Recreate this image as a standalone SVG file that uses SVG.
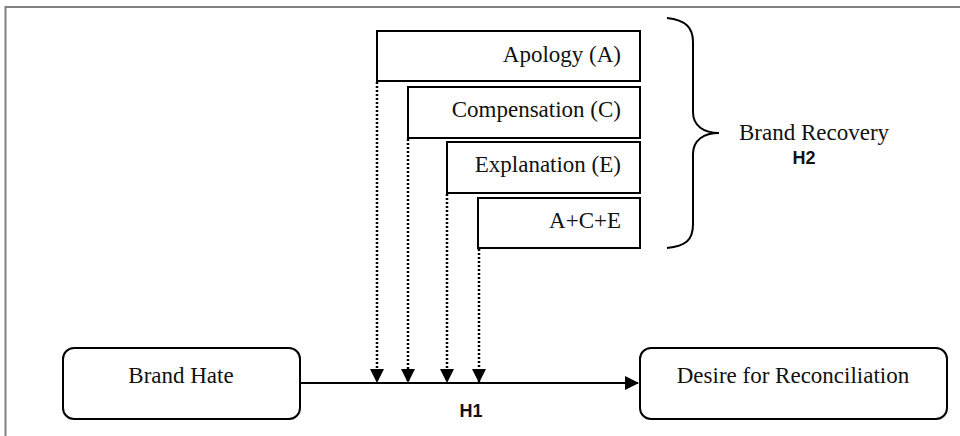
<svg xmlns="http://www.w3.org/2000/svg" width="960" height="436" viewBox="0 0 960 436">
<defs>
<style>
.box{fill:#fff;stroke:#000;stroke-width:2}
.t{font-family:"Liberation Serif","Times New Roman",serif;font-size:23px;fill:#111}
.h{font-family:"Liberation Sans",Arial,sans-serif;font-size:18px;font-weight:bold;fill:#111}
.dot{stroke:#000;stroke-width:2.5;stroke-dasharray:2 2;fill:none}
.ln{stroke:#000;stroke-width:2;fill:none}
.frame{stroke:#808080;stroke-width:2;fill:none}
</style>
<marker id="ah" viewBox="0 0 14 14" refX="13" refY="7" markerWidth="14" markerHeight="14" markerUnits="userSpaceOnUse" orient="auto">
<path d="M0,0 L14,7 L0,14 Z" fill="#000"/>
</marker>
</defs>
<rect width="960" height="436" fill="#fff"/>
<path class="frame" d="M5.5,436 V7 H960"/>

<g id="apology"><rect class="box" x="377" y="31" width="263" height="50"/><text class="t" x="621" y="62" text-anchor="end">Apology (A)</text></g>
<g id="compensation"><rect class="box" x="408" y="87" width="232" height="51"/><text class="t" x="621" y="117" text-anchor="end">Compensation (C)</text></g>
<g id="explanation"><rect class="box" x="447" y="142" width="193" height="51"/><text class="t" x="621" y="172" text-anchor="end">Explanation (E)</text></g>
<g id="ace"><rect class="box" x="478" y="198" width="162" height="50"/><text class="t" x="621" y="228" text-anchor="end">A+C+E</text></g>

<g id="brand-recovery">
<path class="ln" d="M667,18 C686,20 693,28 693,42 V112 C693,126 704,133 719,133 C704,133 693,140 693,154 V224 C693,240 686,246 667,248"/>
<text class="t" x="814" y="140" text-anchor="middle">Brand Recovery</text>
<text class="h" x="804" y="164" text-anchor="middle">H2</text>
</g>

<g id="brand-hate"><rect class="box" x="63" y="348" width="237" height="71" rx="11"/><text class="t" x="181" y="383" text-anchor="middle">Brand Hate</text></g>
<g id="desire"><rect class="box" x="640" y="348" width="307" height="71" rx="11"/><text class="t" x="793" y="383" text-anchor="middle">Desire for Reconciliation</text></g>

<g id="connectors">
<line class="ln" x1="300" y1="383" x2="638" y2="383" marker-end="url(#ah)"/>
<line class="dot" x1="377" y1="82" x2="377" y2="382" marker-end="url(#ah)"/>
<line class="dot" x1="408" y1="139" x2="408" y2="382" marker-end="url(#ah)"/>
<line class="dot" x1="447" y1="194" x2="447" y2="382" marker-end="url(#ah)"/>
<line class="dot" x1="479" y1="249" x2="479" y2="382" marker-end="url(#ah)"/>
<text class="h" x="471" y="417" text-anchor="middle">H1</text>
</g>
</svg>
